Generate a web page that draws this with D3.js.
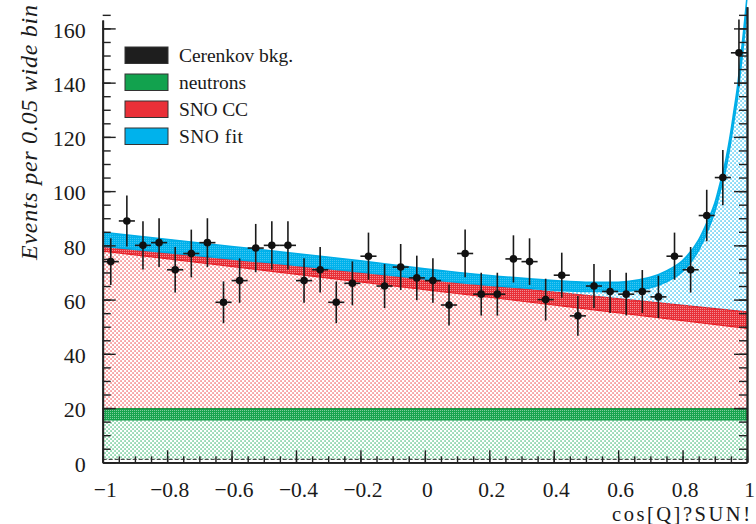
<!DOCTYPE html>
<html><head><meta charset="utf-8">
<script src="https://cdn.jsdelivr.net/npm/d3@7"></script>
<style>
html,body{margin:0;padding:0;background:#fff;}
svg{display:block;font-family:"Liberation Serif","Times New Roman",serif;}
</style></head><body>
<svg id="chart" width="756" height="524"></svg>
<script>
// ---------------- data ----------------
const binCenters = [-0.975,-0.925,-0.875,-0.825,-0.775,-0.725,-0.675,-0.625,-0.575,-0.525,
  -0.475,-0.425,-0.375,-0.325,-0.275,-0.225,-0.175,-0.125,-0.075,-0.025,
  0.025,0.075,0.125,0.175,0.225,0.275,0.325,0.375,0.425,0.475,
  0.525,0.575,0.625,0.675,0.725,0.775,0.825,0.875,0.925,0.975];
const counts = [74,89,80,81,71,77,81,59,67,79,
  80,80,67,71,59,66,76,65,72,68,
  67,58,77,62,62,75,74,60,69,54,
  65,63,62,63,61,76,71,91,105,151];
const countErrors = [8.6,9.4,8.9,9.0,8.4,8.8,9.0,7.7,8.2,8.9,
  8.9,8.9,8.2,8.4,7.7,8.1,8.7,8.1,8.5,8.2,
  8.2,7.6,8.8,7.9,7.9,8.7,8.6,7.7,8.3,7.3,
  8.1,7.9,7.9,7.9,7.8,8.7,8.4,9.5,10.2,12.3];
const binHalfWidth = 0.025;
const cerenkovBkg = [1.1,1.1,1.1,1.1,1.1,1.1,1.1,1.1,1.1,1.1,
  1.1,1.1,1.1,1.1,1.1,1.1,1.1,1.1,1.1,1.1,
  1.1,1.1,1.1,1.1,1.1,1.1,1.1,1.1,1.1,1.1,
  1.1,1.1,1.1,1.1,1.1,1.1,1.1,1.1,1.1,1.1];
const neutronBand = [15.6, 19.8];
const ccX    = [-1, -0.5, 0, 0.5, 1];
const ccHigh = [79.7, 73.8, 67.7, 61.6, 55.5];
const ccLow  = [77.9, 70.8, 63.7, 56.6, 49.4];
const fitX    = [-1,-0.6,-0.2,0,0.2,0.4,0.5,0.6,0.65,0.7,0.75,0.8,0.85,0.88,0.9,0.92,0.935,0.95,0.96,0.97,0.98,0.99,1.0];
const fitHigh = [84.8,79.6,74.3,71.4,68.9,67.0,66.4,66.4,67.0,68.2,70.6,74.4,82.0,89.6,95.5,104.5,112.0,122.0,130.0,138.0,148.5,159.5,171.5];
const fitLow  = [79.7,75.0,70.2,67.6,65.3,63.5,63.0,63.0,63.4,64.4,66.6,70.4,78.2,86.0,92.5,101.5,108.5,118.5,126.3,134.0,144.3,155.0,167.5];
const xTicks = [-1,-0.8,-0.6,-0.4,-0.2,0,0.2,0.4,0.6,0.8,1];
const xTickLabels = ["\u22121","\u22120.8","\u22120.6","\u22120.4","\u22120.2","0","0.2","0.4","0.6","0.8","1"];
const xMinorTicks = d3.range(-20, 21).map(i => i / 20);
const yTicks = [0,20,40,60,80,100,120,140,160];
const yMinorTicks = d3.range(0, 34).map(i => i * 5);
const legendLabels = ["Cerenkov bkg.","neutrons","SNO CC","SNO fit"];
const legendColors = ["#1e1e1e","#12a24e","#ea3038","#00b2ec"];
const legendTextWidths = [114, 67, 69, 64];

// ---------------- scales ----------------
const svg = d3.select("#chart");
const x = d3.scaleLinear().domain([-1, 1]).range([102.7, 747]);
const y = d3.scaleLinear().domain([0, 163.1]).range([462.3, 20]);
const ccHighF = d3.scaleLinear().domain(ccX).range(ccHigh);

// ---------------- patterns ----------------
const defs = svg.append("defs");
function dotPattern(id, color, op) {
  const p = defs.append("pattern").attr("id", id).attr("patternUnits","userSpaceOnUse")
    .attr("width", 4).attr("height", 4);
  p.append("rect").attr("x",0.3).attr("y",0.3).attr("width",1.5).attr("height",1.5).attr("fill",color).attr("opacity",op);
  p.append("rect").attr("x",2.3).attr("y",2.3).attr("width",1.5).attr("height",1.5).attr("fill",color).attr("opacity",op);
}
function bandPattern(id, color, op) {
  const p = defs.append("pattern").attr("id", id).attr("patternUnits","userSpaceOnUse")
    .attr("width", 2).attr("height", 2);
  p.append("rect").attr("width",2).attr("height",2).attr("fill",color);
  p.append("rect").attr("width",1).attr("height",1).attr("fill","#fff").attr("opacity",op);
}
dotPattern("dotsGreen", "#22b060", 0.75);
dotPattern("dotsRed", "#ee3a40", 0.75);
dotPattern("dotsBlue", "#12b4ec", 0.8);
bandPattern("bandGreen", "#18a44e", 0.45);
bandPattern("bandRed", "#e83038", 0.45);
bandPattern("bandBlue", "#00b2ec", 0.25);

const left = x(-1), right = x(1);

// ---------------- neutrons ----------------
svg.append("rect").attr("x", left).attr("width", right-left)
  .attr("y", y(neutronBand[0])).attr("height", y(0)-y(neutronBand[0])).attr("fill","url(#dotsGreen)");
svg.append("rect").attr("x", left).attr("width", right-left)
  .attr("y", y(neutronBand[1])).attr("height", y(neutronBand[0])-y(neutronBand[1])).attr("fill","url(#bandGreen)");
[neutronBand[0], neutronBand[1]].forEach(v => svg.append("line").attr("x1",left).attr("x2",right)
  .attr("y1",y(v)).attr("y2",y(v)).attr("stroke","#0e9a46").attr("stroke-width",1.2));

// ---------------- SNO CC ----------------
const ccIdx = d3.range(ccX.length);
const redDots = d3.area().x(i => x(ccX[i])).y0(() => y(neutronBand[1])).y1(i => y(ccLow[i]));
svg.append("path").datum(ccIdx).attr("d", redDots).attr("fill","url(#dotsRed)");
const redBand = d3.area().x(i => x(ccX[i])).y0(i => y(ccLow[i])).y1(i => y(ccHigh[i]));
svg.append("path").datum(ccIdx).attr("d", redBand).attr("fill","url(#bandRed)");
const ccLineHigh = d3.line().x(i => x(ccX[i])).y(i => y(ccHigh[i]));
const ccLineLow  = d3.line().x(i => x(ccX[i])).y(i => y(ccLow[i]));
svg.append("path").datum(ccIdx).attr("d", ccLineHigh).attr("fill","none").attr("stroke","#e81e26").attr("stroke-width",1.2);
svg.append("path").datum(ccIdx).attr("d", ccLineLow).attr("fill","none").attr("stroke","#e81e26").attr("stroke-width",1.2);

// ---------------- SNO fit ----------------
const fitIdx = d3.range(fitX.length);
const blueDots = d3.area().curve(d3.curveMonotoneX).x(i => x(fitX[i]))
  .y0(i => y(ccHighF(fitX[i]))).y1(i => y(fitLow[i]));
svg.append("path").datum(fitIdx).attr("d", blueDots).attr("fill","url(#dotsBlue)");
const blueBand = d3.area().curve(d3.curveMonotoneX).x(i => x(fitX[i]))
  .y0(i => y(fitLow[i])).y1(i => y(fitHigh[i]));
svg.append("path").datum(fitIdx).attr("d", blueBand).attr("fill","url(#bandBlue)");
const fitLineHigh = d3.line().curve(d3.curveMonotoneX).x(i => x(fitX[i])).y(i => y(fitHigh[i]));
const fitLineLow  = d3.line().curve(d3.curveMonotoneX).x(i => x(fitX[i])).y(i => y(fitLow[i]));
svg.append("path").datum(fitIdx).attr("d", fitLineHigh).attr("fill","none").attr("stroke","#00aee8").attr("stroke-width",1.6);
svg.append("path").datum(fitIdx).attr("d", fitLineLow).attr("fill","none").attr("stroke","#00aee8").attr("stroke-width",1.6);

// ---------------- Cerenkov bkg ----------------
const cerIdx = d3.range(binCenters.length);
const cerPts = cerIdx.concat([cerIdx.length - 1]);
const cerXf = (i, k) => k < cerIdx.length ? x(binCenters[i] - binHalfWidth) : x(binCenters[i] + binHalfWidth);
svg.append("path").datum(cerPts).attr("d", d3.area().curve(d3.curveStepAfter)
    .x(cerXf).y0(y(0)).y1(i => y(cerenkovBkg[i])))
  .attr("fill","#fff");
svg.append("path").datum(cerPts).attr("d", d3.line().curve(d3.curveStepAfter).x(cerXf).y(i => y(cerenkovBkg[i])))
  .attr("fill","none").attr("stroke","#222").attr("stroke-width",1).attr("stroke-dasharray","4,2");

// ---------------- axes ----------------
const axisColor = "#222";
function styleAxis(g) {
  g.selectAll("path.domain").attr("stroke", axisColor).attr("stroke-width", 1.8);
  g.selectAll(".tick line").attr("stroke", axisColor).attr("stroke-width", 1.4);
  g.selectAll(".tick text").attr("fill", "#1a1a1a").attr("font-size", 22)
    .attr("font-family", '"Liberation Serif","Times New Roman",serif');
}
// bottom
const gxMinor = svg.append("g").attr("transform", `translate(0,${y(0)})`)
  .call(d3.axisBottom(x).tickValues(xMinorTicks).tickSizeInner(-6).tickSizeOuter(0).tickFormat(""));
styleAxis(gxMinor);
const gx = svg.append("g").attr("transform", `translate(0,${y(0)})`)
  .call(d3.axisBottom(x).tickValues(xTicks).tickSizeInner(-12).tickSizeOuter(0).tickPadding(19)
    .tickFormat((d, i) => xTickLabels[i]));
styleAxis(gx);
gx.selectAll(".tick text").attr("dy", "0.71em").attr("dx", 2).attr("font-size", 21.5);
// left
const gyMinor = svg.append("g").attr("transform", `translate(${left},0)`)
  .call(d3.axisLeft(y).tickValues(yMinorTicks).tickSizeInner(-8).tickSizeOuter(0).tickFormat(""));
styleAxis(gyMinor);
const gy = svg.append("g").attr("transform", `translate(${left},0)`)
  .call(d3.axisLeft(y).tickValues(yTicks).tickSizeInner(-13).tickSizeOuter(0).tickPadding(17).tickFormat(d3.format("d")));
styleAxis(gy);
gy.selectAll(".tick text").attr("dy", "0.4em");
// right
const yR = y.copy().domain([0, 168]).range([y(0), y(168)]);
const gyR = svg.append("g").attr("transform", `translate(${right},0)`)
  .call(d3.axisRight(yR).tickValues(yMinorTicks).tickSizeInner(-8).tickSizeOuter(0).tickFormat(""));
styleAxis(gyR);
const gyR2 = svg.append("g").attr("transform", `translate(${right},0)`)
  .call(d3.axisRight(yR).tickValues(yTicks).tickSizeInner(-13).tickSizeOuter(0).tickFormat(""));
styleAxis(gyR2);

// axis titles
svg.append("text").attr("x", 750).attr("y", 521).attr("text-anchor","end")
  .attr("font-size", 20.5).attr("fill","#1a1a1a")
  .attr("textLength", 138).attr("lengthAdjust","spacing")
  .text("cos[Q]?SUN!");
svg.append("text").attr("transform","translate(37,260) rotate(-90)")
  .attr("font-size", 24).attr("font-style","italic").attr("fill","#1a1a1a")
  .attr("textLength", 255).attr("lengthAdjust","spacing")
  .text("Events per 0.05 wide bin");

// ---------------- data points ----------------
const pts = svg.append("g");
binCenters.forEach((c, i) => {
  const cx = x(c), cy = y(counts[i]);
  pts.append("line").attr("x1", cx).attr("x2", cx)
    .attr("y1", y(counts[i] - countErrors[i])).attr("y2", y(counts[i] + countErrors[i]))
    .attr("stroke", "#1a1a1a").attr("stroke-width", 1.6);
  pts.append("line").attr("x1", x(c - binHalfWidth)).attr("x2", x(c + binHalfWidth))
    .attr("y1", cy).attr("y2", cy)
    .attr("stroke", "#1a1a1a").attr("stroke-width", 1.6);
  pts.append("circle").attr("cx", cx).attr("cy", cy).attr("r", 3.8).attr("fill", "#111");
});

// ---------------- legend ----------------
const lg = svg.append("g");
legendLabels.forEach((lab, i) => {
  const top = 47 + i * 27;
  lg.append("rect").attr("x", 125).attr("y", top).attr("width", 43).attr("height", 16.5)
    .attr("fill", legendColors[i]).attr("stroke", "#333").attr("stroke-width", 1);
  lg.append("text").attr("x", 179).attr("y", top + 15).attr("font-size", 19.5).attr("fill", "#1a1a1a")
    .attr("textLength", legendTextWidths[i]).attr("lengthAdjust", "spacing")
    .text(lab);
});
</script>
</body></html>
